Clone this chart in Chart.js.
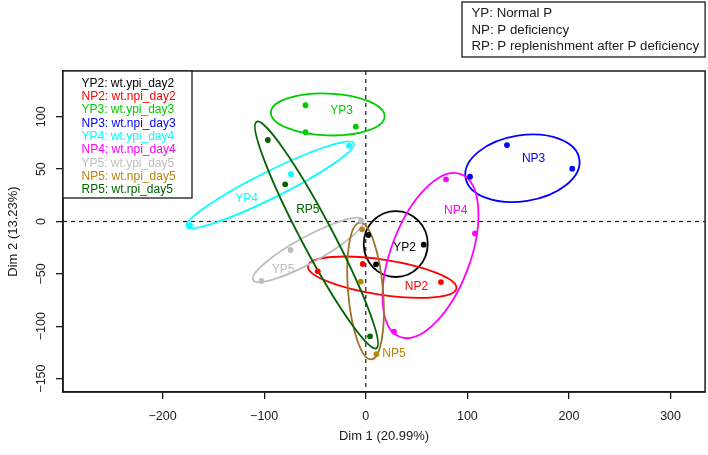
<!DOCTYPE html>
<html><head><meta charset="utf-8">
<script src="https://cdn.jsdelivr.net/npm/chart.js@4/dist/chart.umd.min.js"></script>
<style>html,body{margin:0;padding:0;background:#fff;}#wrap{width:708px;height:455px;}</style>
</head><body><div id="wrap"><canvas id="c" width="708" height="455"></canvas></div>
<script>
// ---- data ----
const groups  = ['YP2','NP2','YP3','NP3','YP4','NP4','YP5','NP5','RP5'];
const samples = ['wt.ypi_day2','wt.npi_day2','wt.ypi_day3','wt.npi_day3','wt.ypi_day4','wt.npi_day4','wt.ypi_day5','wt.npi_day5','wt.rpi_day5'];
const colors  = ['#000000','#FF0000','#00CD00','#0000FF','#00FFFF','#FF00FF','#BEBEBE','#B8860B','#006400'];
const ellColors = ['#000000','#FF0000','#00CD00','#0000FF','#00FFFF','#FF00FF','#BEBEBE','#A0722A','#006400'];

const YP2_x = [2.6, 57, 10.1],      YP2_y = [-12.9, -22.1, -40.9];
const NP2_x = [-47.2, -3, 74],      NP2_y = [-47.6, -40.6, -57.8];
const YP3_x = [-59.3, -59.3, -9.8], YP3_y = [111, 85.2, 90.5];
const NP3_x = [102.6, 139, 203.2],  NP3_y = [42.8, 73, 50.4];
const YP4_x = [-173, -73.7, -16.4], YP4_y = [-3.6, 45.1, 72.4];
const NP4_x = [79, 107.5, 27.8],    NP4_y = [40.3, -11.3, -105.2];
const YP5_x = [-102.6, -74, -4.6],  YP5_y = [-56.8, -27.2, 0.8];
const NP5_x = [-3.6, -4.9, 10.5],   NP5_y = [-7.5, -57.5, -126.6];
const RP5_x = [-96.4, -79.3, 4.2],  RP5_y = [77.8, 35.5, -109.6];

// confidence ellipses: centre, semi-axes, angle (deg) in data units
const ellCx    = [29.5, 16.2, -37.4, 154.2, -94.1, 63.7, -56.7, -0.2, -48.5];
const ellCy    = [-21.5, -53.2, 102.2, 50.8, 34.9, -32.5, -27.2, -66.4, -12.9];
const ellA     = [31.5, 73.8, 56, 56.7, 91.4, 83.3, 61.2, 65.5, 123.2];
const ellB     = [31.5, 16.8, 20, 31.5, 12.7, 38.8, 12.6, 17.2, 15.5];
const ellAngle = [0, -8.3, -2, 8.7, 25.8, 68.6, 27.9, -85, -61.4];

// group label positions
const labelX = [38.3, 49.9, -23.9, 165.2, -117.3, 88.5, -81.3, 27.8, -57];
const labelY = [-24.6, -62.3, 105.8, 59.7, 21.5, 10.3, -46.3, -126.6, 11];

const xTicks = [-200, -100, 0, 100, 200, 300];
const yTicks = [-150, -100, -50, 0, 50, 100];
const xRange = [-298, 334];
const yRange = [-162.8, 143.7];

const keyLines = ['YP: Normal P', 'NP: P deficiency', 'RP: P replenishment after P deficiency'];
const xTitle = 'Dim 1 (20.99%)';
const yTitle = 'Dim 2 (13.23%)';

// ---- chart ----
const FONT = "'Liberation Sans', Arial, Helvetica, sans-serif";
const INK = '#1a1a1a';
const xs = [YP2_x, NP2_x, YP3_x, NP3_x, YP4_x, NP4_x, YP5_x, NP5_x, RP5_x];
const ys = [YP2_y, NP2_y, YP3_y, NP3_y, YP4_y, NP4_y, YP5_y, NP5_y, RP5_y];
const fmt = v => String(v).replace('-', '\u2212');

const overlay = {
  id: 'overlay',
  beforeDatasetsDraw(chart) {
    const {ctx, chartArea: ca, scales: {x, y}} = chart;
    ctx.save();
    ctx.strokeStyle = INK; ctx.lineWidth = 1.2; ctx.setLineDash([4, 4]);
    const x0 = x.getPixelForValue(0), y0 = y.getPixelForValue(0);
    ctx.beginPath(); ctx.moveTo(x0, ca.top); ctx.lineTo(x0, ca.bottom); ctx.stroke();
    ctx.beginPath(); ctx.moveTo(ca.left, y0); ctx.lineTo(ca.right, y0); ctx.stroke();
    ctx.setLineDash([]);
    groups.forEach((g, i) => {
      const t = ellAngle[i] * Math.PI / 180;
      const cx = x.getPixelForValue(ellCx[i]), cy = y.getPixelForValue(ellCy[i]);
      const ux = x.getPixelForValue(ellCx[i] + ellA[i] * Math.cos(t)) - cx;
      const uy = y.getPixelForValue(ellCy[i] + ellA[i] * Math.sin(t)) - cy;
      const vx = x.getPixelForValue(ellCx[i] - ellB[i] * Math.sin(t)) - cx;
      const vy = y.getPixelForValue(ellCy[i] + ellB[i] * Math.cos(t)) - cy;
      ctx.save();
      ctx.translate(cx, cy);
      ctx.transform(ux, uy, vx, vy, 0, 0);
      ctx.beginPath(); ctx.arc(0, 0, 1, 0, Math.PI * 2);
      ctx.restore();
      ctx.strokeStyle = ellColors[i]; ctx.lineWidth = 1.8;
      ctx.stroke();
    });
    ctx.font = '12px ' + FONT; ctx.textAlign = 'center'; ctx.textBaseline = 'middle';
    groups.forEach((g, i) => {
      ctx.fillStyle = colors[i];
      ctx.fillText(g, x.getPixelForValue(labelX[i]), y.getPixelForValue(labelY[i]));
    });
    ctx.restore();
  },
  afterDraw(chart) {
    const {ctx, chartArea: ca, scales: {y}} = chart;
    ctx.save();
    ctx.strokeStyle = INK; ctx.lineWidth = 1.5;
    ctx.strokeRect(ca.left, ca.top, ca.right - ca.left, ca.bottom - ca.top);
    ctx.fillStyle = INK; ctx.font = '12.5px ' + FONT;
    ctx.textAlign = 'center'; ctx.textBaseline = 'middle';
    yTicks.forEach(v => {
      ctx.save(); ctx.translate(42, y.getPixelForValue(v)); ctx.rotate(-Math.PI / 2);
      ctx.fillText(fmt(v), 0, 0); ctx.restore();
    });
    const lx = ca.left, ly = ca.top, lw = 129, lh = 127;
    ctx.font = '12px ' + FONT;
    ctx.fillStyle = '#fff'; ctx.fillRect(lx, ly, lw, lh);
    ctx.strokeStyle = INK; ctx.lineWidth = 1.3; ctx.strokeRect(lx, ly, lw, lh);
    ctx.textAlign = 'left';
    groups.forEach((g, i) => {
      ctx.fillStyle = colors[i];
      ctx.fillText(g + ': ' + samples[i], lx + 18.5, ly + 12.5 + i * 13.3);
    });
    const kx = 462, ky = 2, kw = ca.right - 462, kh = 55;
    ctx.strokeStyle = INK; ctx.lineWidth = 1.3; ctx.strokeRect(kx, ky, kw, kh);
    ctx.fillStyle = INK; ctx.font = '13.3px ' + FONT;
    keyLines.forEach((t, i) => ctx.fillText(t, kx + 9.5, ky + 11.8 + i * 16.2));
    ctx.restore();
  }
};

new Chart(document.getElementById('c'), {
  type: 'scatter',
  data: {
    datasets: groups.map((g, i) => ({
      label: g,
      data: xs[i].map((v, j) => ({x: v, y: ys[i][j]})),
      backgroundColor: colors[i], borderColor: colors[i], borderWidth: 0,
      pointRadius: 2.9, pointHoverRadius: 2.9
    }))
  },
  options: {
    responsive: false, animation: false, devicePixelRatio: 1,
    layout: {padding: {top: 71, right: 2, left: 0, bottom: 0}},
    plugins: {legend: {display: false}, tooltip: {enabled: false}},
    scales: {
      x: {
        type: 'linear', min: xRange[0], max: xRange[1],
        afterBuildTicks: s => { s.ticks = xTicks.map(v => ({value: v})); },
        afterFit: s => { s.height = 63; },
        grid: {drawOnChartArea: false, drawTicks: true, tickLength: 7, color: INK, lineWidth: 1.3},
        border: {display: true, color: INK, width: 1.5},
        ticks: {color: INK, font: {family: FONT, size: 12.5}, padding: 10, maxRotation: 0, autoSkip: false,
                callback: v => fmt(v)},
        title: {display: true, text: xTitle, color: INK, font: {family: FONT, size: 13}, padding: {top: 0, bottom: 11}}
      },
      y: {
        type: 'linear', min: yRange[0], max: yRange[1],
        afterBuildTicks: s => { s.ticks = yTicks.map(v => ({value: v})); },
        afterFit: s => { s.width = 63; },
        grid: {drawOnChartArea: false, drawTicks: true, tickLength: 7, color: INK, lineWidth: 1.3},
        border: {display: true, color: INK, width: 1.5},
        ticks: {display: false},
        title: {display: true, text: yTitle, color: INK, font: {family: FONT, size: 13}, padding: {top: 6, bottom: 0}}
      }
    }
  },
  plugins: [overlay]
});
</script></body></html>
